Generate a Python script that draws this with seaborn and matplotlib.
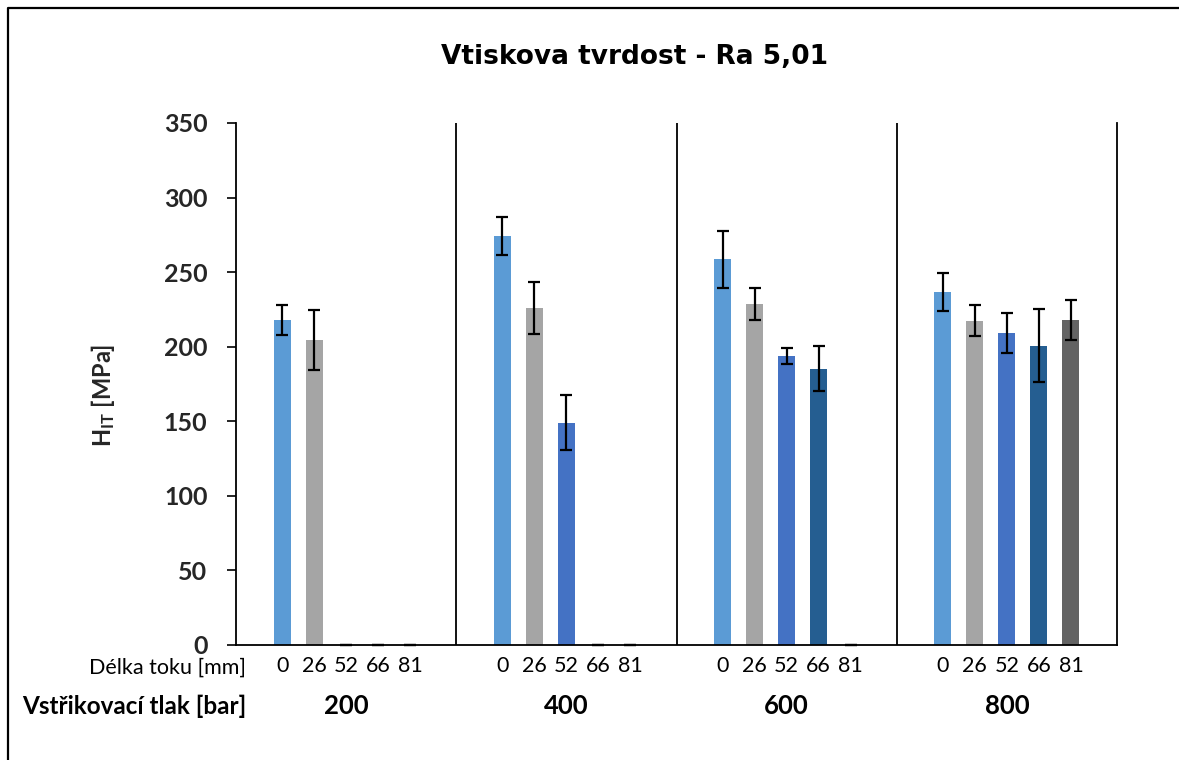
import numpy as np
import pandas as pd
import matplotlib
matplotlib.use("Agg")
import matplotlib.pyplot as plt
import matplotlib.transforms as mtransforms
from matplotlib.lines import Line2D
import seaborn as sns

# Injection pressure groups and flow-length positions
pressures = ["200", "400", "600", "800"]
lengths = ["0", "26", "52", "66", "81"]

# Indentation hardness H_IT [MPa], one list per pressure (order follows `lengths`)
hit_200 = [218.0, 204.5, 0.0, 0.0, 0.0]
hit_400 = [274.0, 225.7, 149.0, 0.0, 0.0]
hit_600 = [258.6, 228.6, 193.8, 185.3, 0.0]
hit_800 = [236.5, 217.5, 209.0, 200.7, 217.7]

# Standard deviations
sd_200 = [10.3, 20.0, 0.0, 0.0, 0.0]
sd_400 = [12.7, 17.4, 18.5, 0.0, 0.0]
sd_600 = [19.0, 10.5, 5.6, 15.0, 0.0]
sd_800 = [12.6, 10.4, 13.3, 24.4, 13.4]

yticks = [0, 50, 100, 150, 200, 250, 300, 350]
colors = ["#5B9BD5", "#A5A5A5", "#4472C4", "#255E91", "#636363"]

hit = [hit_200, hit_400, hit_600, hit_800]
sd = [sd_200, sd_400, sd_600, sd_800]
df = pd.DataFrame(
    [(p, l, hit[i][j], sd[i][j]) for i, p in enumerate(pressures) for j, l in enumerate(lengths)],
    columns=["tlak", "delka", "hit", "sd"],
)

sns.set_theme(style="white")
plt.rcParams["font.family"] = ["Lato", "DejaVu Sans"]
plt.rcParams["mathtext.fontset"] = "custom"
plt.rcParams["mathtext.rm"] = "Lato"
plt.rcParams["mathtext.bf"] = "Lato:bold"

W, H = 1179, 760
fig = plt.figure(figsize=(W / 100, H / 100), dpi=100)
ax = fig.add_axes([236 / W, 1 - 645 / H, (1117 - 236) / W, (645 - 123) / H])

sns.barplot(
    data=df, x="tlak", y="hit", hue="delka",
    order=pressures, hue_order=lengths, palette=colors,
    width=0.727, gap=0.47, errorbar=None, legend=False,
    saturation=1, ax=ax, edgecolor="none",
)
bar_containers = list(ax.containers)

# Error bars and flow-length labels under every bar
label_tf = mtransforms.blended_transform_factory(ax.transData, fig.transFigure)
for j, cont in enumerate(bar_containers):
    for i, bar in enumerate(cont.patches):
        xc = bar.get_x() + bar.get_width() / 2
        eb = ax.errorbar(xc, hit[i][j], yerr=sd[i][j], fmt="none", ecolor="black",
                         elinewidth=1.6, capsize=4.3, capthick=1.6, zorder=4)
        for art in eb.lines[1]:
            art.set_clip_on(False)
        fig.text(xc, 1 - 666 / H, lengths[j], transform=label_tf,
                 ha="center", va="center", fontsize=15.5, color="black")

for i, p in enumerate(pressures):
    fig.text(i, 1 - 706 / H, p, transform=label_tf, ha="center", va="center",
             fontsize=18.5, fontweight="bold", color="black")

ax.set_xlim(-0.5, 3.5)
ax.set_ylim(0, 350)
ax.set_yticks(yticks)
ax.set_yticklabels([str(t) for t in yticks], fontsize=18, fontweight="bold")
ax.set_xticks([])
ax.set_xlabel("")
ax.set_ylabel(r"$\mathbf{H_{IT}}$ [MPa]", fontsize=17, fontweight="bold")
ax.yaxis.set_label_coords((117 - 236) / (1117 - 236), (645 - 395) / (645 - 123))
ax.tick_params(axis="y", left=True, length=6.5, width=1.2, color="black", pad=14)

ax.spines["top"].set_visible(False)
for s in ["left", "bottom", "right"]:
    ax.spines[s].set_color("black")
    ax.spines[s].set_linewidth(1.3)
for xb in [0.5, 1.5, 2.5]:
    ax.axvline(xb, color="black", lw=1.3, zorder=1)

fig.text(634.5 / W, 1 - 57 / H, "Vtiskova tvrdost - Ra 5,01", ha="center", va="center",
         fontsize=19, fontweight="bold", color="black", family="DejaVu Sans")
fig.text(246 / W, 1 - 668 / H, "Délka toku [mm]", ha="right", va="center",
         fontsize=15.5, color="black")
fig.text(246 / W, 1 - 706 / H, "Vstřikovací tlak [bar]", ha="right", va="center",
         fontsize=17.5, fontweight="bold", color="black")

# Chart frame (left and top edges)
fig.add_artist(Line2D([8 / W, 8 / W, 1.0], [0.0, 1 - 8 / H, 1 - 8 / H],
                      transform=fig.transFigure, color="black", lw=1.6))

fig.savefig("out.png", dpi=100, facecolor="white")
